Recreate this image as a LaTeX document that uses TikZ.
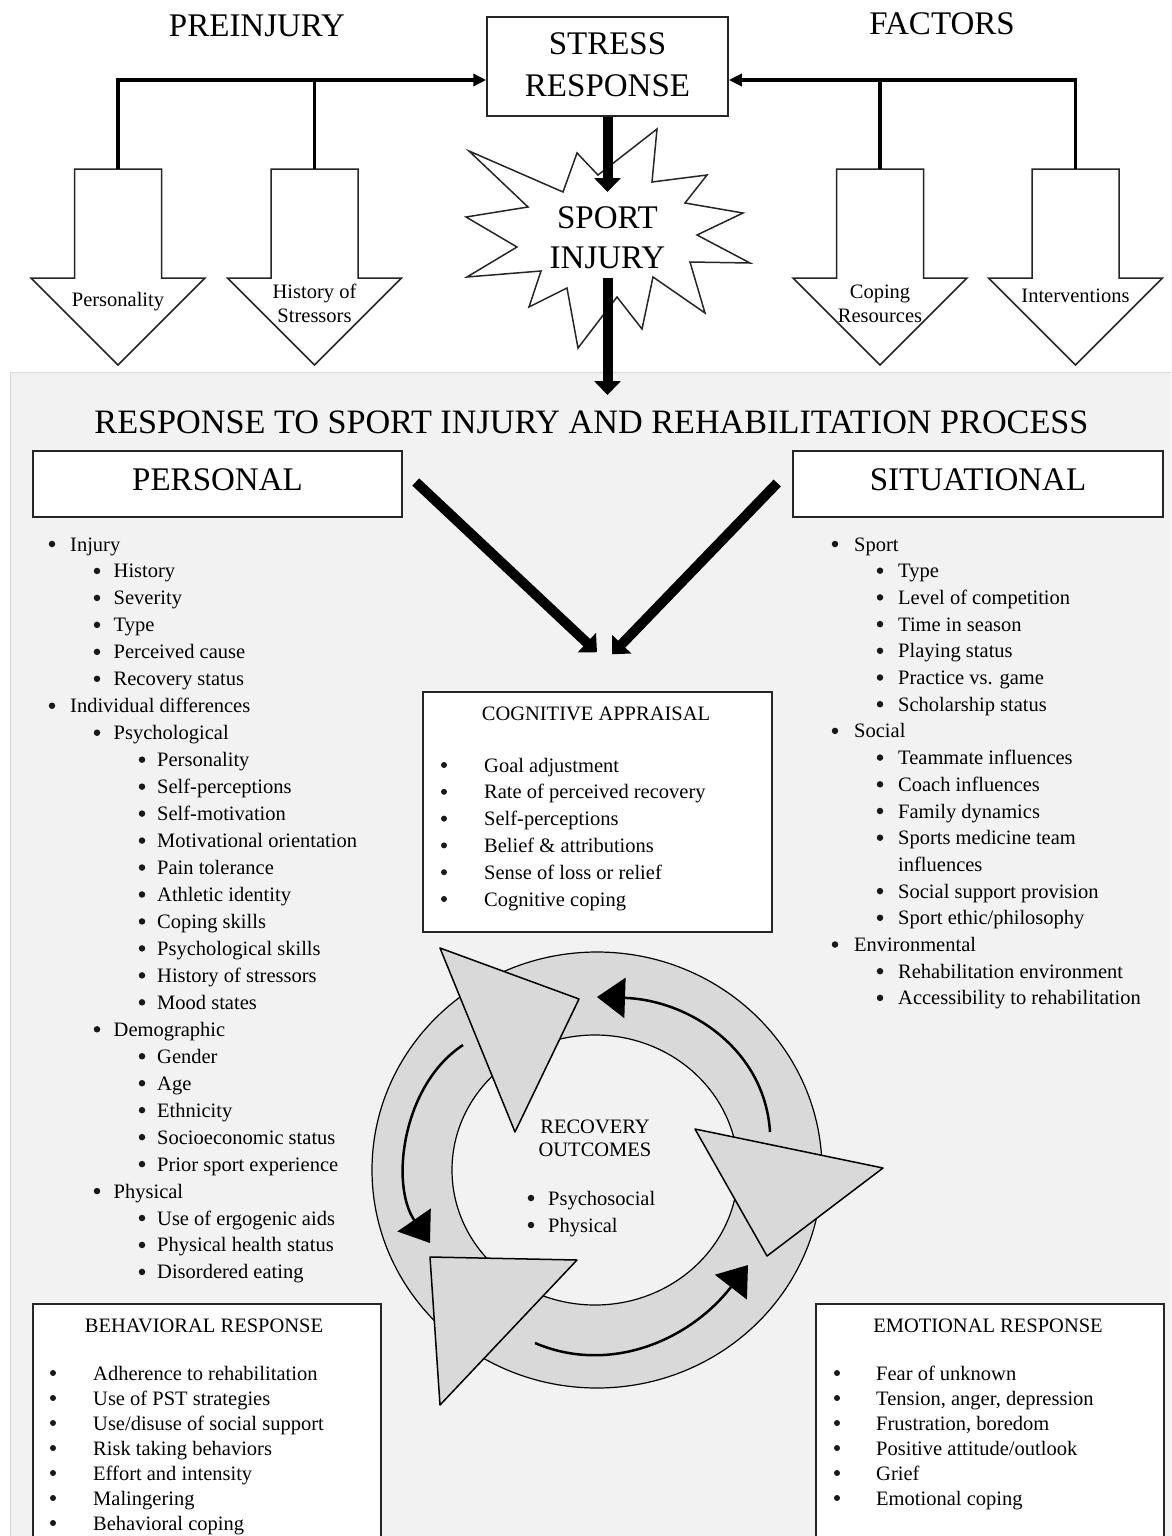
\documentclass[tikz,border=0pt]{standalone}
\usepackage{fontspec}
\setmainfont{Liberation Serif}
\usetikzlibrary{arrows.meta}

% block arrow pointing down: #1 centre x, #2 name of its top point
\newcommand{\blockarrow}[2]{%
  \draw[draw=black!85, fill=white, line width=1.5] (#1-43.5,-169) -- (#1+43.5,-169) -- (#1+43.5,-278)
    -- (#1+87,-278) -- (#1,-365) -- (#1-87,-278) -- (#1-43.5,-278) -- cycle;
  \coordinate (#2) at (#1,-169);}

\begin{document}
\begin{tikzpicture}[x=1pt, y=1pt,
    txt/.style={font=\fontsize{20.5}{24}\selectfont, inner sep=0, anchor=base west},
    bul/.style={circle, fill=black!90, inner sep=0, minimum size=6.5},
    nob/.style={inner sep=0},
    lbl/.style={font=\fontsize{20.5}{24}\selectfont, inner sep=0, anchor=base},
    big/.style={font=\fontsize{33}{40}\selectfont, inner sep=0, anchor=base},
    box/.style={draw=black!85, fill=white, line width=1.5, inner sep=0},
    link/.style={line width=3.5},
    fat/.style={line width=10, -{Triangle[length=14,width=26]}},
    tri/.style={draw=black, fill=black!15, line width=1.5, line join=round},
    cyc/.style={line width=2.5, -{Triangle[length=28,width=40]}}]
  \useasboundingbox (0,0) rectangle (1171,-1536);
  \fill[white] (0,0) rectangle (1171,-1536);
  \clip (0,0) rectangle (1171,-1536);

  % preinjury factors
  \node[big] (pre) at (257,-37) {PREINJURY};
  \node[big] (fac) at (942,-35) {FACTORS};
  \node[box, minimum width=241, minimum height=99] (stress) at (607.5,-66.5) {};
  \node[big] (stress1) at (607.5,-55) {STRESS};
  \node[big] (stress2) at (607.5,-97) {RESPONSE};

  \blockarrow{118}{persT}
  \blockarrow{314.5}{histT}
  \blockarrow{880}{copT}
  \blockarrow{1075.5}{intT}
  \node[lbl] (pers) at (118,-306) {Personality};
  \node[lbl] (hist1) at (314.5,-298) {History of};
  \node[lbl] (hist2) at (314.5,-322) {Stressors};
  \node[lbl] (cop1) at (880,-298) {Coping};
  \node[lbl] (cop2) at (880,-322) {Resources};
  \node[lbl] (int) at (1075.5,-302) {Interventions};

  \coordinate (jl) at ([yshift=-13.5]stress.west);
  \coordinate (jr) at ([yshift=-13.5]stress.east);
  \draw[link, -{Triangle[length=13,width=12]}] (persT) |- (jl);
  \draw[link] (histT) -- (histT |- jl);
  \draw[link, -{Triangle[length=13,width=12]}] (intT) |- (jr);
  \draw[link] (copT) -- (copT |- jr);

  % the panel
  \draw[draw=black!15, fill=black!5] (10,-372) rectangle (1190,-1560);

  % sport injury
  \draw[draw=black!85, fill=white, line width=1.5] (469,-151) -- (563,-192) -- (577,-153) -- (598,-175)
    -- (657,-129) -- (652,-182) -- (707,-175) -- (685,-203) -- (743,-213) -- (697,-235) -- (750,-263)
    -- (690,-262) -- (705,-313) -- (653,-277) -- (642,-329) -- (617,-297) -- (578,-348) -- (567,-288)
    -- (529,-307) -- (541,-271) -- (467,-277) -- (517,-247) -- (466,-217) -- (528,-207) -- cycle;
  \node[big] (inj1) at (607.5,-228) {SPORT};
  \node[big] (inj2) at (607.5,-268) {INJURY};
  \coordinate (hit) at (607.5,-192);
  \coordinate (hit2) at (607.5,-395);
  \draw[fat] (stress.south) -- (hit);
  \draw[fat] ([yshift=-9]inj2.south) -- (hit2);

  \node[big, font=\fontsize{34.2}{40}\selectfont] (resp) at (591.5,-433)
    {RESPONSE TO SPORT INJURY AND REHABILITATION PROCESS};
  \node[box, minimum width=369, minimum height=66] (personal) at (217.5,-484) {};
  \node[box, minimum width=370, minimum height=66] (situ) at (978,-484) {};
  \node[big] (personalT) at (217.5,-490) {PERSONAL};
  \node[big] (situT) at (978,-490) {SITUATIONAL};

  % personal list
  \foreach \lv/\tx [count=\n from 0] in {0/Injury, 1/History, 1/Severity, 1/Type, 1/Perceived cause,
      1/Recovery status, 0/Individual differences, 1/Psychological, 2/Personality, 2/Self-perceptions,
      2/Self-motivation, 2/Motivational orientation, 2/Pain tolerance, 2/Athletic identity,
      2/Coping skills, 2/Psychological skills, 2/History of stressors, 2/Mood states, 1/Demographic,
      2/Gender, 2/Age, 2/Ethnicity, 2/Socioeconomic status, 2/Prior sport experience, 1/Physical,
      2/Use of ergogenic aids, 2/Physical health status, 2/Disordered eating}
  {
    \node[bul] (pb\n) at ({52+45*\lv},{-544-26.96*\n}) {};
    \node[txt] (pi\n) at ({70+43.5*\lv},{-551-26.96*\n}) {\tx};
  }

  % situational list
  \foreach \lv/\bs/\tx [count=\n from 0] in {0/bul/Sport, 1/bul/Type, 1/bul/Level of competition,
      1/bul/Time in season, 1/bul/Playing status, 1/bul/Practice vs. game, 1/bul/Scholarship status,
      0/bul/Social, 1/bul/Teammate influences, 1/bul/Coach influences, 1/bul/Family dynamics,
      1/bul/Sports medicine team, 1/nob/influences, 1/bul/Social support provision,
      1/bul/{Sport ethic/philosophy}, 0/bul/Environmental, 1/bul/Rehabilitation environment,
      1/bul/Accessibility to rehabilitation}
  {
    \node[\bs] (sb\n) at ({835+45*\lv},{-544-26.7*\n}) {};
    \node[txt] (si\n) at ({854+44*\lv},{-551-26.7*\n}) {\tx};
  }

  % cognitive appraisal
  \node[box, minimum width=349, minimum height=240] (cog) at (597.5,-812) {};
  \draw[fat] ([xshift=13,yshift=2]personal.east) -- ([xshift=-0.5,yshift=39]cog.north);
  \draw[fat] ([xshift=-15,yshift=1]situ.west) -- ([xshift=14.5,yshift=37]cog.north);
  \node[lbl] (cogT) at (596,-720) {COGNITIVE APPRAISAL};
  \foreach \tx [count=\n from 0] in {Goal adjustment, Rate of perceived recovery, Self-perceptions,
      Belief \& attributions, Sense of loss or relief, Cognitive coping}
  {
    \node[bul, minimum size=6] (cb\n) at (444,{-765-26.8*\n}) {};
    \node[txt] (ci\n) at (484,{-772-26.8*\n}) {\tx};
  }

  % recovery cycle
  \draw[fill=black!15, line width=1.2] (597,-1170) ellipse [x radius=225, y radius=218];
  \draw[fill=black!5, line width=1.2] (595,-1170) ellipse [x radius=143, y radius=135];
  \draw[tri] (440,-948) -- (579,-999) -- (515,-1132) -- cycle;
  \draw[tri] (695,-1129) -- (883,-1168) -- (767,-1256) -- cycle;
  \draw[tri] (430,-1257) -- (577,-1260) -- (440,-1405) -- cycle;
  \draw[cyc] (770,-1132) .. controls (765,-1050) and (690,-1000) .. (597,-997);
  \draw[cyc] (463,-1045) .. controls (402,-1085) and (390,-1185) .. (430,-1243);
  \draw[cyc] (535,-1343) .. controls (610,-1375) and (690,-1340) .. (748,-1265);
  \node[lbl] (rec1) at (595,-1133) {RECOVERY};
  \node[lbl] (rec2) at (595,-1156) {OUTCOMES};
  \foreach \tx [count=\n from 0] in {Psychosocial, Physical}
  {
    \node[bul] (rb\n) at (531,{-1198-27*\n}) {};
    \node[txt] (ri\n) at (548,{-1205-27*\n}) {\tx};
  }

  % behavioral and emotional response
  \node[box, minimum width=348, minimum height=300, anchor=north west] (beh) at (32,-1303) {};
  \node[box, minimum width=348, minimum height=300, anchor=north west] (emo) at (815,-1303) {};
  \node[lbl] (behT) at (204,-1332) {BEHAVIORAL RESPONSE};
  \node[lbl] (emoT) at (988,-1332) {EMOTIONAL RESPONSE};
  \foreach \tx [count=\n from 0] in {Adherence to rehabilitation, Use of PST strategies,
      Use/disuse of social support, Risk taking behaviors, Effort and intensity, Malingering,
      Behavioral coping}
  {
    \node[bul, minimum size=6] (bb\n) at (53,{-1373-25*\n}) {};
    \node[txt] (bi\n) at (93,{-1380-25*\n}) {\tx};
  }
  \foreach \tx [count=\n from 0] in {Fear of unknown, {Tension, anger, depression},
      {Frustration, boredom}, Positive attitude/outlook, Grief, Emotional coping}
  {
    \node[bul, minimum size=6] (eb\n) at (837,{-1373-25*\n}) {};
    \node[txt] (ei\n) at (876,{-1380-25*\n}) {\tx};
  }
\end{tikzpicture}
\end{document}
